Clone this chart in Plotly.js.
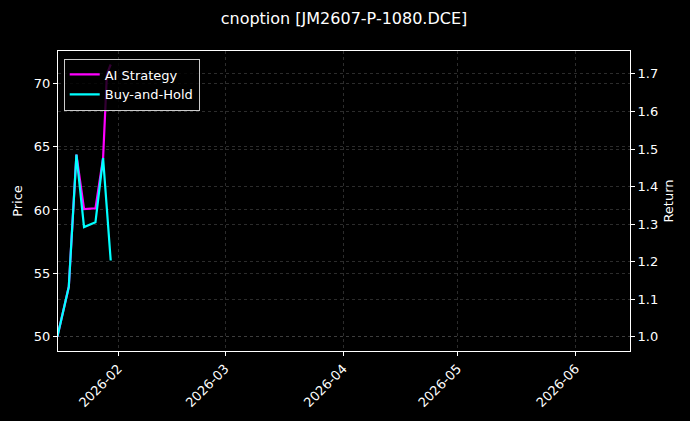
<!DOCTYPE html>
<html>
<head>
<meta charset="utf-8">
<script src="https://cdn.plot.ly/plotly-3.0.1.min.js"></script>
<style>html,body{margin:0;padding:0;background:#000;}#chart{width:690px;height:421px;}</style>
</head>
<body>
<div id="chart"></div>
<script>
// Data
const aiDates = ['2026-01-16','2026-01-19','2026-01-21','2026-01-23','2026-01-26','2026-01-28','2026-01-29','2026-01-30'];
const aiReturn = [1.0, 1.133, 1.485, 1.340, 1.342, 1.476, 1.70, 1.725];
const bhDates = ['2026-01-16','2026-01-19','2026-01-21','2026-01-23','2026-01-26','2026-01-28','2026-01-30'];
const bhReturn = [1.0, 1.133, 1.485, 1.292, 1.305, 1.476, 1.203];
const xTickVals = ['2026-02-01','2026-03-01','2026-04-01','2026-05-01','2026-06-01'];
const xTickText = ['2026-02','2026-03','2026-04','2026-05','2026-06'];
const priceTicks = [50, 55, 60, 65, 70];
const returnTicks = [1.0, 1.1, 1.2, 1.3, 1.4, 1.5, 1.6, 1.7];
const returnTickText = ['1.0','1.1','1.2','1.3','1.4','1.5','1.6','1.7'];

const font = {family: 'DejaVu Sans, sans-serif', color: '#ffffff', size: 13};
const gridStyle = {gridcolor: '#4a4a4a', gridwidth: 0.6, griddash: 'dot'};

const traces = [
  {x: [], y: [], type: 'scatter', mode: 'lines', name: 'Price', showlegend: false,
   hoverinfo: 'skip', yaxis: 'y'},
  {x: aiDates, y: aiReturn, type: 'scatter', mode: 'lines', name: 'AI Strategy',
   line: {color: '#ff00ff', width: 2.2}, yaxis: 'y2'},
  {x: bhDates, y: bhReturn, type: 'scatter', mode: 'lines', name: 'Buy-and-Hold',
   line: {color: '#00ffff', width: 2.2}, yaxis: 'y2'}
];

const layout = {
  width: 690, height: 421,
  paper_bgcolor: '#000000', plot_bgcolor: '#000000',
  font: font,
  margin: {l: 58, r: 60, t: 51, b: 70},
  title: {text: 'cnoption [JM2607-P-1080.DCE]', font: {family: 'DejaVu Sans, sans-serif', size: 16, color: '#ffffff'},
          x: 0.5, xanchor: 'center', y: 0.957, yanchor: 'middle', xref: 'paper'},
  xaxis: Object.assign({
    type: 'date', range: ['2026-01-16 04:00', '2026-06-15 06:30'],
    tickmode: 'array', tickvals: xTickVals, ticktext: xTickText, tickangle: -45,
    showline: true, linecolor: '#ffffff', linewidth: 1, mirror: true,
    ticks: 'outside', ticklen: 4, tickcolor: '#ffffff', zeroline: false,
    tickfont: {size: 13, color: '#ffffff'}
  }, gridStyle),
  yaxis: Object.assign({
    range: [48.87, 72.55], tickmode: 'array', tickvals: priceTicks,
    title: {text: 'Price', font: {size: 13, color: '#ffffff'}, standoff: 8},
    showline: true, linecolor: '#ffffff', linewidth: 1,
    ticks: 'outside', ticklen: 4, tickcolor: '#ffffff', zeroline: false,
    tickfont: {size: 13, color: '#ffffff'}
  }, gridStyle),
  yaxis2: Object.assign({
    overlaying: 'y', side: 'right',
    range: [0.962, 1.761], tickmode: 'array', tickvals: returnTicks, ticktext: returnTickText,
    title: {text: 'Return', font: {size: 13, color: '#ffffff'}, standoff: 6},
    showline: true, linecolor: '#ffffff', linewidth: 1,
    ticks: 'outside', ticklen: 4, tickcolor: '#ffffff', zeroline: false,
    tickfont: {size: 13, color: '#ffffff'}
  }, gridStyle),
  showlegend: true,
  legend: {x: 0.01, y: 0.975, xanchor: 'left', yanchor: 'top',
           bgcolor: 'rgba(0,0,0,0.8)', bordercolor: '#cccccc', borderwidth: 1,
           font: {size: 13, color: '#ffffff'}, tracegroupgap: 0}
};

Plotly.newPlot('chart', traces, layout, {displayModeBar: false, staticPlot: true});
</script>
</body>
</html>
